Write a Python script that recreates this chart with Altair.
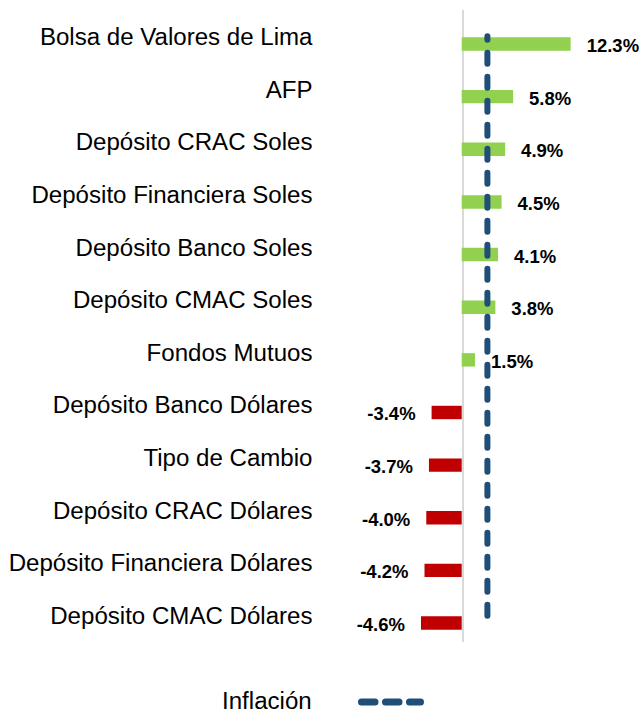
import altair as alt
import pandas as pd

categories = [
    "Bolsa de Valores de Lima",
    "AFP",
    "Depósito CRAC Soles",
    "Depósito Financiera Soles",
    "Depósito Banco Soles",
    "Depósito CMAC Soles",
    "Fondos Mutuos",
    "Depósito Banco Dólares",
    "Tipo de Cambio",
    "Depósito CRAC Dólares",
    "Depósito Financiera Dólares",
    "Depósito CMAC Dólares",
]
values = [12.3, 5.8, 4.9, 4.5, 4.1, 3.8, 1.5, -3.4, -3.7, -4.0, -4.2, -4.6]
inflation = [2.9]
legend_label = ["Inflación"]

df = pd.DataFrame({"cat": categories, "val": values})
df["sign"] = ["pos" if v >= 0 else "neg" for v in values]
df["label"] = [f"{v:.1f}%" for v in values]

W = 310
H = 631.7
FONT = "Liberation Sans"

yenc = alt.Y(
    "cat:N",
    sort=categories,
    scale=alt.Scale(paddingInner=0.745, paddingOuter=0.3725),
    axis=alt.Axis(
        title=None, ticks=False, domain=False, labelPadding=8,
        labelOffset=-6, labelFont=FONT, labelFontSize=24.1,
        labelColor="#000000", labelLimit=400,
    ),
)
xenc = alt.X("val:Q", scale=alt.Scale(domain=[-16, 19]), axis=None)

zero = alt.Chart(pd.DataFrame({"z": [0]})).mark_rule(
    color="#D9D9D9", strokeWidth=2, xOffset=1.3
).encode(
    x=alt.X("z:Q", scale=alt.Scale(domain=[-16, 19]), axis=None),
    y=alt.value(-7.7), y2=alt.value(624.3),
)

bars = alt.Chart(df).mark_bar().encode(
    y=yenc, x=xenc,
    color=alt.Color("sign:N", scale=alt.Scale(domain=["pos", "neg"],
                    range=["#92D050", "#C00000"]), legend=None),
)

infl = alt.Chart(pd.DataFrame({"inf": inflation})).mark_rule(
    color="#1F4E79", strokeWidth=6, strokeDash=[11, 13], strokeCap="round",
    strokeDashOffset=7.6,
).encode(
    x=alt.X("inf:Q", scale=alt.Scale(domain=[-16, 19]), axis=None),
    y=alt.value(18.6), y2=alt.value(598),
)

pos_text = alt.Chart(df).transform_filter("datum.val >= 0").mark_text(
    align="left", baseline="middle", dx=16, dy=2, font=FONT,
    fontSize=18.5, fontWeight="bold", color="#000000",
).encode(y=yenc, x=xenc, text="label:N")

neg_text = alt.Chart(df).transform_filter("datum.val < 0").mark_text(
    align="right", baseline="middle", dx=-16, dy=2, font=FONT,
    fontSize=18.5, fontWeight="bold", color="#000000",
).encode(y=yenc, x=xenc, text="label:N")

leg_text = alt.Chart(pd.DataFrame({"t": legend_label})).mark_text(
    align="right", baseline="middle", font=FONT, fontSize=24.1, color="#000000",
).encode(x=alt.value(-8.3), y=alt.value(684), text="t:N")

leg_line = alt.Chart(pd.DataFrame({"t": legend_label})).mark_rule(
    color="#1F4E79", strokeWidth=7, strokeDash=[13.5, 10.5], strokeCap="round",
).encode(x=alt.value(41.5), x2=alt.value(100.5), y=alt.value(684.3))

chart = alt.layer(zero, bars, infl, pos_text, neg_text, leg_text, leg_line).properties(
    width=W, height=H,
    background="#FFFFFF",
    autosize=alt.AutoSizeParams(type="none"),
    padding={"left": 320, "top": 17.68, "right": 12, "bottom": 62.6},
).configure_view(stroke=None)

chart.save("out.html", embed_options={"renderer": "svg", "actions": False})
